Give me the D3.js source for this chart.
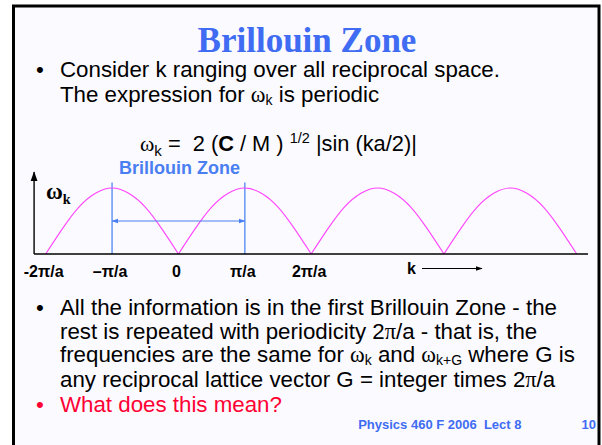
<!DOCTYPE html>
<html>
<head>
<meta charset="utf-8">
<script src="https://cdn.jsdelivr.net/npm/d3@7/dist/d3.min.js"></script>
<style>
  html, body { margin: 0; padding: 0; background: #ffffff; }
  svg { display: block; }
  text { white-space: pre; }
</style>
</head>
<body>
<script>
// ---------- data ----------
const titleText = "Brillouin Zone";
const tickValues = [-2, -1, 0, 1, 2];              // k in units of pi/a
const tickLabels = ["-2\u03C0/a", "\u2013\u03C0/a", "0", "\u03C0/a", "2\u03C0/a"];
// omega_k (relative to its maximum), k in units of pi/a
const kValues = [-2, -1.75, -1.5, -1.25, -1, -0.75, -0.5, -0.25, 0,
                  0.25, 0.5, 0.75, 1, 1.25, 1.5, 1.75, 2,
                  2.25, 2.5, 2.75, 3, 3.25, 3.5, 3.75, 4,
                  4.25, 4.5, 4.75, 5, 5.25, 5.5, 5.75, 6];
const omegaValues = [0, 0.38, 0.71, 0.92, 1, 0.92, 0.71, 0.38, 0,
                     0.38, 0.71, 0.92, 1, 0.92, 0.71, 0.38, 0,
                     0.38, 0.71, 0.92, 1, 0.92, 0.71, 0.38, 0,
                     0.38, 0.71, 0.92, 1, 0.92, 0.71, 0.38, 0];
const zoneEdges = [-1, 1];
const zoneLabel = "Brillouin Zone";

// ---------- page ----------
const W = 602, H = 445;
const svg = d3.select("body").append("svg").attr("width", W).attr("height", H);

const sans = "'Liberation Sans', Arial, sans-serif";
const serif = "'Liberation Serif', 'Times New Roman', serif";
const blue = "#3f6cf2";
const red = "#ff0033";
const FS = 22.3;

// slide background + frame
svg.append("rect").attr("x", 13.5).attr("y", 6).attr("width", 585.5).attr("height", 450)
  .attr("fill", "#fbfaff").attr("stroke", "#000").attr("stroke-width", 3);

// title
svg.append("text").attr("x", 307).attr("y", 52).attr("text-anchor", "middle")
  .attr("font-family", serif).attr("font-weight", "bold").attr("font-size", 35)
  .attr("fill", blue).text(titleText);

// helpers
function bullet(y, color) {
  svg.append("text").attr("x", 36).attr("y", y).attr("font-family", sans)
    .attr("font-size", FS).attr("fill", color || "#000").text("\u2022");
}
function line(y, parts, color) {
  const t = svg.append("text").attr("x", 60).attr("y", y).attr("font-family", sans)
    .attr("font-size", FS).attr("fill", color || "#000");
  parts.forEach(p => {
    const s = t.append("tspan").text(p.t);
    if (p.serif) s.attr("font-family", serif);
    if (p.sub) s.attr("font-size", 14).attr("dy", 3);
    if (p.back) s.attr("dy", -3);
  });
  return t;
}

// first bullet
bullet(77);
line(77, [{t: "Consider k ranging over all reciprocal space."}]);
line(101.5, [{t: "The expression for "}, {t: "\u03C9", serif: true}, {t: "k", sub: true},
             {t: " is periodic", back: true}]);

// formula
{
  const t = svg.append("text").attr("x", 140).attr("y", 151).attr("font-family", sans)
    .attr("font-size", 21.8).attr("fill", "#000");
  t.append("tspan").attr("font-family", serif).text("\u03C9");
  t.append("tspan").attr("font-size", 15).attr("dy", 5).text("k");
  t.append("tspan").attr("dy", -5).text(" =  2 (");
  t.append("tspan").attr("font-weight", "bold").text("C");
  t.append("tspan").text(" / M ) ");
  t.append("tspan").attr("font-size", 14.5).attr("dy", -8).text("1/2");
  t.append("tspan").attr("dy", 8).text(" |sin (ka/2)|");
}

// ---------- chart ----------
const x = d3.scaleLinear().domain([-2, 6]).range([45.7, 576.7]);
const y = d3.scaleLinear().domain([0, 1]).range([254, 188]);
const g = svg.append("g");

// zone lines
g.selectAll("line.zone").data(zoneEdges).join("line").attr("class", "zone")
  .attr("x1", d => x(d)).attr("x2", d => x(d))
  .attr("y1", y(0)).attr("y2", y(1.085))
  .attr("stroke", "#6f9df6").attr("stroke-width", 1.6);

// curve (one arch per period)
const pts = kValues.map((k, i) => [k, omegaValues[i]]);
const arches = [];
let cur = [];
pts.forEach((p, i) => {
  cur.push(p);
  if (p[1] === 0 && cur.length > 1) { arches.push(cur); cur = [p]; }
});
const lineGen = d3.line().x(d => x(d[0])).y(d => y(d[1])).curve(d3.curveNatural);
g.selectAll("path.arch").data(arches).join("path").attr("class", "arch")
  .attr("d", lineGen).attr("fill", "none").attr("stroke", "#ff44ff").attr("stroke-width", 1.1);

// axes
const defs = svg.append("defs");
defs.append("marker").attr("id", "ah").attr("viewBox", "0 0 10 10").attr("refX", 9).attr("refY", 5)
  .attr("markerWidth", 7).attr("markerHeight", 7).attr("orient", "auto")
  .append("path").attr("d", "M0,1.5 L10,5 L0,8.5 Z").attr("fill", "#000");
defs.append("marker").attr("id", "bh").attr("viewBox", "0 0 10 10").attr("refX", 9).attr("refY", 5)
  .attr("markerWidth", 7).attr("markerHeight", 7).attr("orient", "auto-start-reverse")
  .append("path").attr("d", "M0,1.5 L10,5 L0,8.5 Z").attr("fill", "#4a7ff2");

g.append("line").attr("x1", x(-2.175)).attr("x2", x(-2.175)).attr("y1", y(0)).attr("y2", y(1.24))
  .attr("stroke", "#000").attr("stroke-width", 1.4).attr("marker-end", "url(#ah)");
g.append("line").attr("x1", x(-2.175)).attr("x2", x(6.17)).attr("y1", y(0)).attr("y2", y(0))
  .attr("stroke", "#000").attr("stroke-width", 1.4);

// zone arrow
g.append("line").attr("x1", x(zoneEdges[0])).attr("x2", x(zoneEdges[1])).attr("y1", y(0.5)).attr("y2", y(0.5))
  .attr("stroke", "#4a7ff2").attr("stroke-width", 1)
  .attr("marker-start", "url(#bh)").attr("marker-end", "url(#bh)");

// zone label
svg.append("text").attr("x", 119).attr("y", 174).attr("font-family", sans).attr("font-weight", "bold")
  .attr("font-size", 18).attr("fill", "#4a7ff2").text(zoneLabel);

// tick labels
g.selectAll("text.tick").data(tickValues).join("text").attr("class", "tick")
  .attr("x", d => x(d) - 2).attr("y", 277).attr("text-anchor", "middle")
  .attr("font-family", sans).attr("font-weight", "bold").attr("font-size", 16)
  .text((d, i) => tickLabels[i]);

// omega label
{
  const t = svg.append("text").attr("x", 46).attr("y", 199).attr("font-family", serif)
    .attr("font-weight", "bold").attr("font-size", 23).attr("fill", "#000");
  t.append("tspan").text("\u03C9");
  t.append("tspan").attr("font-size", 14).attr("dy", 5).text("k");
}

// k arrow
svg.append("text").attr("x", 407).attr("y", 274).attr("font-family", sans).attr("font-weight", "bold")
  .attr("font-size", 16).text("k");
svg.append("line").attr("x1", 422).attr("x2", 482).attr("y1", 268.5).attr("y2", 268.5)
  .attr("stroke", "#000").attr("stroke-width", 1).attr("marker-end", "url(#ah)");

// ---------- lower bullets ----------
bullet(315);
line(315, [{t: "All the information is in the first Brillouin Zone - the"}]);
line(338.5, [{t: "rest is repeated with periodicity 2"}, {t: "\u03C0", serif: true}, {t: "/a - that is, the"}]);
line(362, [{t: "frequencies are the same for "}, {t: "\u03C9", serif: true}, {t: "k", sub: true},
           {t: " and ", back: true}, {t: "\u03C9", serif: true}, {t: "k+G", sub: true},
           {t: " where G is", back: true}]);
line(387, [{t: "any reciprocal lattice vector G = integer times 2"}, {t: "\u03C0", serif: true}, {t: "/a"}]);
bullet(412, red);
line(412, [{t: "What does this mean?"}], red);

// footer
svg.append("text").attr("x", 521.5).attr("y", 429).attr("text-anchor", "end")
  .attr("font-family", sans).attr("font-weight", "bold").attr("font-size", 13)
  .attr("fill", blue).text("Physics 460 F 2006  Lect 8");
svg.append("text").attr("x", 596).attr("y", 429).attr("text-anchor", "end")
  .attr("font-family", sans).attr("font-weight", "bold").attr("font-size", 13)
  .attr("fill", blue).text("10");
</script>
</body>
</html>
